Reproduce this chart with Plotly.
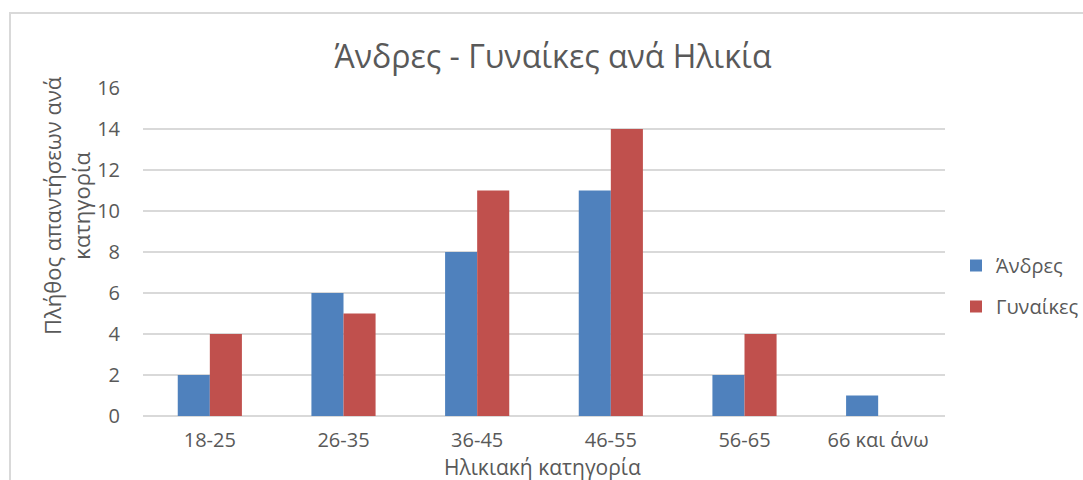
import plotly.graph_objects as go

categories = ["18-25", "26-35", "36-45", "46-55", "56-65", "66 και άνω"]
men = [2, 6, 8, 11, 2, 1]
women = [4, 5, 11, 14, 4, 0]
y_ticks = [0, 2, 4, 6, 8, 10, 12, 14, 16]

FONT = "Open Sans"
TEXT = "#595959"
W, H = 1083, 480
ML, MR, MT, MB = 143, 138, 88, 64
pw, ph = W - ML - MR, H - MT - MB


def px_x(x):
    return (x - ML) / pw


def px_y(y):
    return 1 - (y - MT) / ph


fig = go.Figure()
fig.add_trace(go.Bar(name="Άνδρες", x=categories, y=men, marker_color="#4F81BD",
                     marker_line_width=0, legendgroup="m"))
fig.add_trace(go.Bar(name="Γυναίκες", x=categories, y=women, marker_color="#C0504D",
                     marker_line_width=0, legendgroup="w"))

# chart-area frame (runs past the right/bottom edges of the page)
fig.add_shape(type="rect", xref="paper", yref="paper", x0=px_x(10), x1=1.5, y0=-0.5, y1=px_y(13),
              line=dict(color="#d9d9d9", width=2), fillcolor="rgba(0,0,0,0)", layer="below")

# axis titles
fig.add_annotation(text="Πλήθος απαντήσεων ανά<br>κατηγορία", xref="paper", yref="paper",
                   x=px_x(66), y=px_y(206), xanchor="center", yanchor="middle", textangle=-90,
                   showarrow=False, font=dict(size=22, color=TEXT))
fig.add_annotation(text="Ηλικιακή κατηγορία", xref="paper", yref="paper",
                   x=px_x(542), y=px_y(467), xanchor="center", yanchor="middle",
                   showarrow=False, font=dict(size=21, color=TEXT))

fig.update_layout(
    width=W, height=H,
    margin=dict(l=ML, r=MR, t=MT, b=MB),
    paper_bgcolor="white", plot_bgcolor="white",
    barmode="group", bargap=0.52, bargroupgap=0,
    font=dict(family=FONT, color=TEXT, size=20),
    title=dict(text="Άνδρες - Γυναίκες ανά Ηλικία", x=553 / W, xanchor="center",
               y=1 - 57 / H, yanchor="middle", font=dict(size=32, color=TEXT, family=FONT)),
    legend=dict(xref="container", yref="container", x=956 / W, y=1 - 246 / H,
                xanchor="left", yanchor="top",
                font=dict(size=20, color=TEXT), tracegroupgap=12, itemwidth=30,
                traceorder="grouped", bgcolor="rgba(0,0,0,0)"),
    xaxis=dict(showgrid=False, showline=False, ticks="", ticklabelstandoff=10,
               tickfont=dict(size=20, color=TEXT)),
    yaxis=dict(range=[0, 16], tickvals=y_ticks, showgrid=True, gridcolor="#d9d9d9", gridwidth=1.5,
               zeroline=True, zerolinecolor="#d9d9d9", zerolinewidth=1.5, showline=False,
               ticks="", ticklabelstandoff=22, tickfont=dict(size=20, color=TEXT)),
)

fig.write_html("out.html")
